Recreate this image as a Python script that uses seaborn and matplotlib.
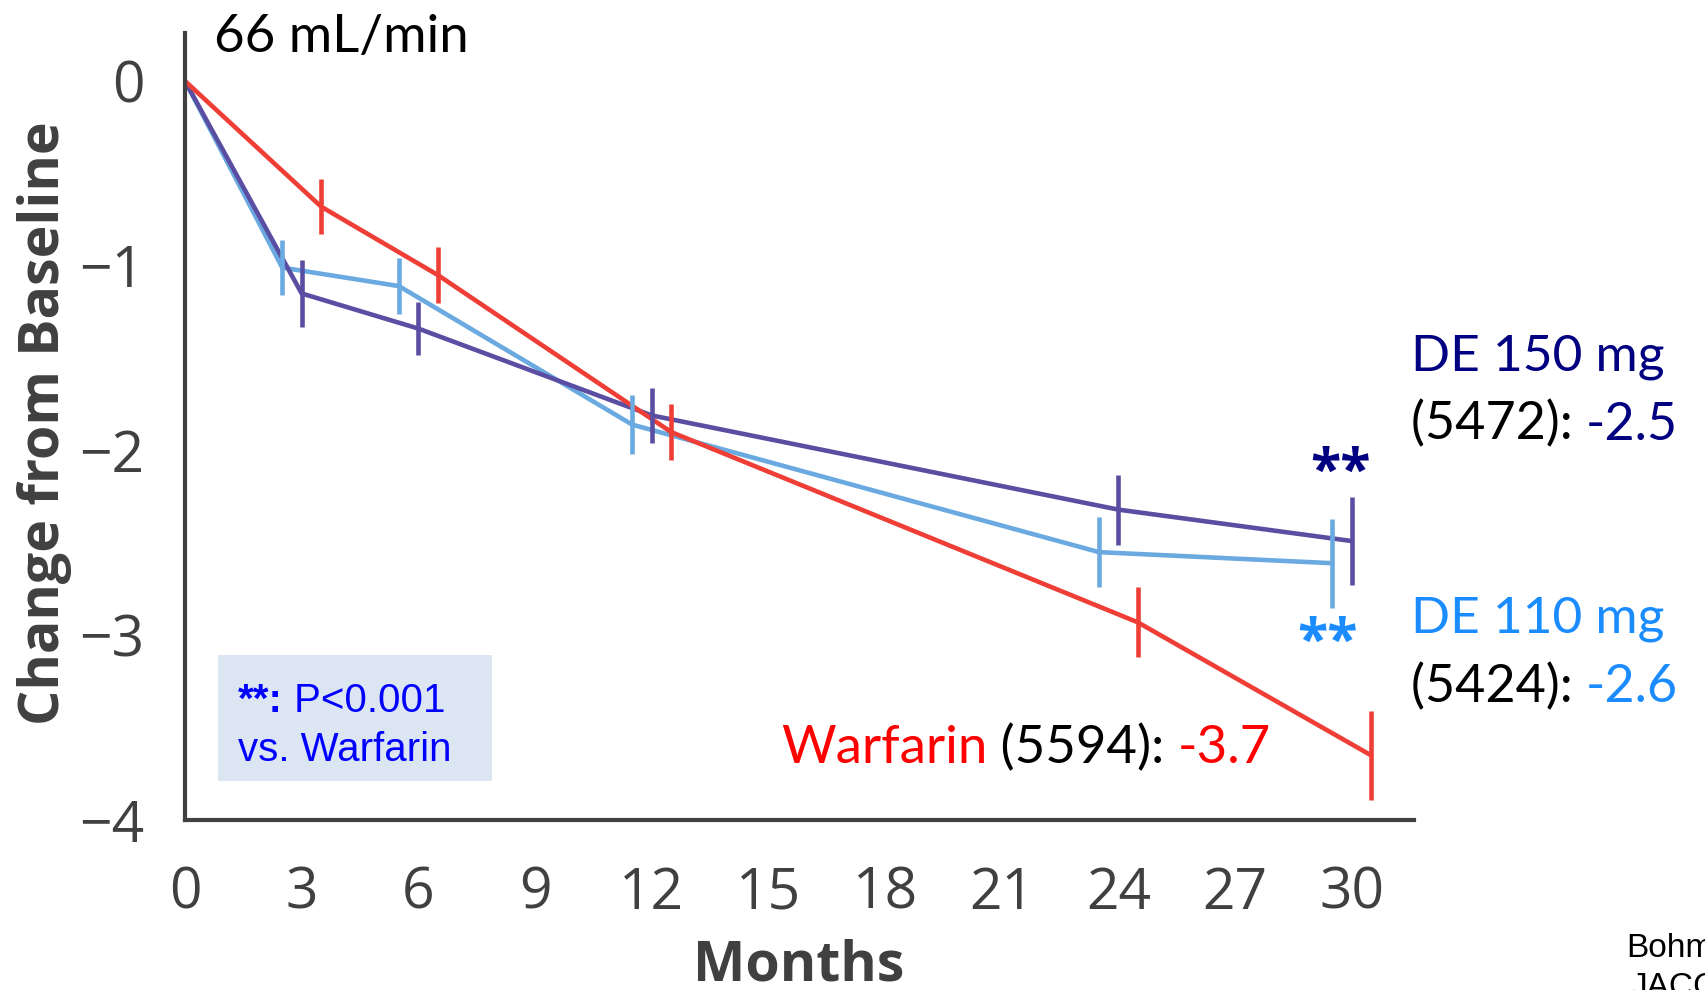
import matplotlib
matplotlib.use("Agg")
import matplotlib.pyplot as plt
import seaborn as sns
import pandas as pd

# ---- data ----
months = [0, 3, 6, 12, 24, 30]
arms = ["DE 110 mg", "DE 150 mg", "Warfarin"]
de110_change = [0, -1.01, -1.11, -1.86, -2.55, -2.61]
de110_err = [0, 0.15, 0.15, 0.16, 0.19, 0.24]
de150_change = [0, -1.15, -1.34, -1.81, -2.32, -2.49]
de150_err = [0, 0.18, 0.145, 0.15, 0.19, 0.24]
warfarin_change = [0, -0.68, -1.05, -1.90, -2.93, -3.65]
warfarin_err = [0, 0.15, 0.15, 0.15, 0.19, 0.24]
x_ticks = [0, 3, 6, 9, 12, 15, 18, 21, 24, 27, 30]
y_ticks = [0, -1, -2, -3, -4]

colors = {"DE 110 mg": "#6aaae0", "DE 150 mg": "#5a4ea3", "Warfarin": "#ef3e36"}
dodge = {"DE 110 mg": -0.5, "DE 150 mg": 0.0, "Warfarin": 0.5}
changes = {"DE 110 mg": de110_change, "DE 150 mg": de150_change, "Warfarin": warfarin_change}
errs = {"DE 110 mg": de110_err, "DE 150 mg": de150_err, "Warfarin": warfarin_err}

rows = []
for arm in arms:
    for m, c, e in zip(months, changes[arm], errs[arm]):
        rows.append({"arm": arm, "month": m, "x": m + (dodge[arm] if m > 0 else 0.0),
                     "change": c, "err": e})
df = pd.DataFrame(rows)

sns.set_theme(style="white")
plt.rcParams["font.family"] = ["Open Sans", "DejaVu Sans"]

GRAY = "#404040"
fig = plt.figure(figsize=(17.05, 9.9), dpi=100)
ax = fig.add_axes([0.1085, 0.1717, 0.7208, 0.795])
ax.patch.set_alpha(0)

sns.lineplot(data=df, x="x", y="change", hue="arm", hue_order=arms, palette=colors,
             estimator=None, sort=False, linewidth=3.3, legend=False, ax=ax)
for arm in arms:
    sub = df[(df["arm"] == arm) & (df["err"] > 0)]
    ax.errorbar(sub["x"], sub["change"], yerr=sub["err"], fmt="none",
                ecolor=colors[arm], elinewidth=3.3, capsize=0, zorder=3)

ax.set_xlim(0, 31.6)
ax.set_ylim(-4, 0.26)
ax.set_xticks(x_ticks)
ax.set_yticks(y_ticks)
ax.set_yticklabels([("\u2212" + str(abs(t))) if t < 0 else str(t) for t in y_ticks])
for s in ["top", "right"]:
    ax.spines[s].set_visible(False)
for s in ["left", "bottom"]:
    ax.spines[s].set_color(GRAY)
    ax.spines[s].set_linewidth(3)
ax.tick_params(axis="both", which="major", length=17, width=3, color=GRAY,
               labelcolor=GRAY, labelsize=41, direction="out")
ax.tick_params(axis="y", pad=12)
ax.tick_params(axis="x", pad=16)
ax.set_xlabel("")
ax.set_ylabel("")

fig.text(0.4686, 0.010, "Months", ha="center", va="baseline", fontsize=40,
         fontweight="bold", color=GRAY)
fig.text(0.026, 0.573, "Change from Baseline", ha="center", va="center", rotation=90,
         fontsize=40, fontweight="bold", color=GRAY)

CAL = ["Lato", "DejaVu Sans"]
NAVY = "#000080"
BLUE2 = "#1a8cff"
RED = "#ff0000"
fig.text(0.1256, 0.947, "66 mL/min", fontsize=38, family=CAL, color="black",
         va="baseline", ha="left")

fig.text(0.8276, 0.626, "DE 150 mg", fontsize=37, family=CAL, color=NAVY, va="baseline")
t1 = fig.text(0.8276, 0.556, "(5472): ", fontsize=37.5, family=CAL, color="black", va="baseline")
ax.annotate("-2.5", xy=(1, 0), xycoords=t1, fontsize=37.5, family=CAL, color=NAVY,
            va="bottom", ha="left", annotation_clip=False)
fig.text(0.8276, 0.361, "DE 110 mg", fontsize=37, family=CAL, color=BLUE2, va="baseline")
t2 = fig.text(0.8276, 0.291, "(5424): ", fontsize=37.5, family=CAL, color="black", va="baseline")
ax.annotate("-2.6", xy=(1, 0), xycoords=t2, fontsize=37.5, family=CAL, color=BLUE2,
            va="bottom", ha="left", annotation_clip=False)

w1 = fig.text(0.458, 0.229, "Warfarin", fontsize=38, family=CAL, color=RED, va="baseline")
w2 = ax.annotate(" (5594): ", xy=(1, 0), xycoords=w1, fontsize=38, family=CAL,
                 color="black", va="bottom", ha="left", annotation_clip=False)
ax.annotate("-3.7", xy=(1, 0), xycoords=w2, fontsize=38, family=CAL, color=RED,
            va="bottom", ha="left", annotation_clip=False)

STAR = ["Open Sans", "DejaVu Sans"]
fig.text(0.7865, 0.507, "**", fontsize=40, family=STAR, fontweight="bold", color=NAVY,
         ha="center", va="baseline")
fig.text(0.7785, 0.336, "**", fontsize=40, family=STAR, fontweight="bold", color=BLUE2,
         ha="center", va="baseline")

ARIAL = ["Liberation Sans", "DejaVu Sans"]
fig.patches.append(plt.Rectangle((0.1276, 0.2114), 0.1607, 0.1274, transform=fig.transFigure,
                                 facecolor="#dce6f2", edgecolor="none", zorder=-1))
b1 = fig.text(0.1396, 0.281, "**:", fontsize=29, family=ARIAL, fontweight="bold",
              color="#0000ff", va="baseline")
ax.annotate(" P<0.001", xy=(1, 0), xycoords=b1, fontsize=29, family=ARIAL,
            color="#0000ff", va="bottom", ha="left", annotation_clip=False)
fig.text(0.1396, 0.231, "vs. Warfarin", fontsize=29, family=ARIAL, color="#0000ff",
         va="baseline")

fig.text(0.9537, 0.033, "Bohm", fontsize=24, family=ARIAL, color="black", va="baseline")
fig.text(0.9565, -0.006, "JACC", fontsize=24, family=ARIAL, color="black", va="baseline")

fig.savefig("out.png", dpi=100)
